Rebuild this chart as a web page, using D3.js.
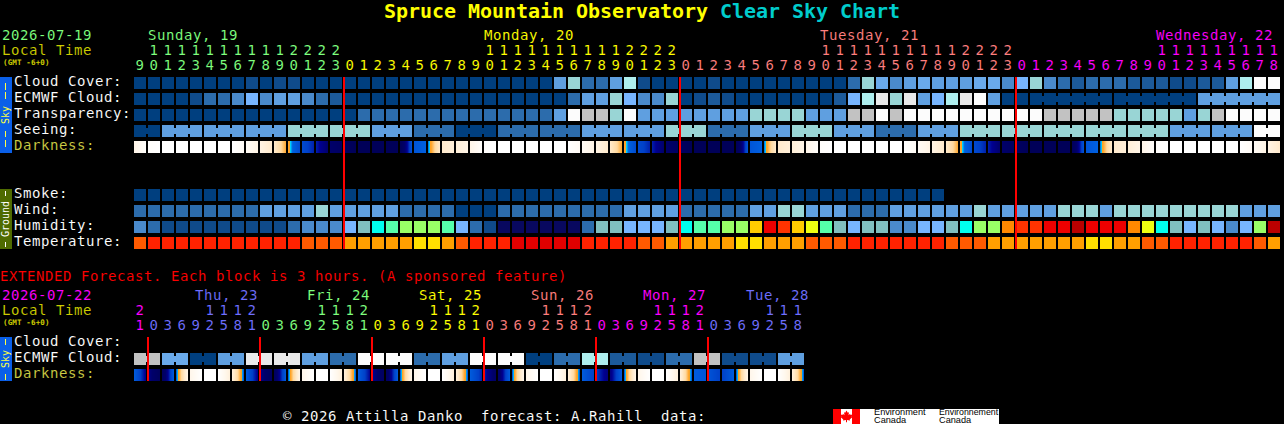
<!DOCTYPE html>
<html>
<head>
<meta charset="utf-8">
<script src="https://cdnjs.cloudflare.com/ajax/libs/d3/7.9.0/d3.min.js"></script>
<style>
html,body{margin:0;padding:0;background:#000;overflow:hidden}
svg{display:block}
text{font-family:"DejaVu Sans Mono",monospace;white-space:pre}
.thin{stroke:#000;stroke-width:.08px}
</style>
</head>
<body>
<svg id="c" width="1284" height="424" viewBox="0 0 1284 424"></svg>
<script>
// ---------- DATA ----------
const skyColors = ["#003f7f","#0f4b8b","#1c5a9a","#2c6cac","#4a8acb","#5f9fe0","#6aaaeb","#77b5fe","#99d5d5","#aeeeee","#e9e9e9","#c2c2c2","#fcfcfc"];
const humidityColors = ["#0f4a8a","#2c6cac","#4a8acb","#77b5fe","#80bfbf","#00ffee","#55ffaa","#99ff66","#eeff11","#ffcc00","#ff8800","#ff3300","#ee0000","#bb0000","#08085f"];
const temperatureColors = ["#ff2200","#e00000","#ff5a00","#ff9f00","#ffdf00"];
const darknessDomain = [0,1,2,3,3.7,3.95,4.05,4.2,4.4,6,7,8,10];
const darknessColors = ["#ffffff","#fff6ea","#ffeacc","#ffd9a0","#ffa830","#ffa020","#00d8ff","#00a0f0","#0060e0","#0040c8","#000090","#00006a","#000058"];

const mainHours = [9,10,11,12,13,14,15,16,17,18,19,20,21,22,23,
 0,1,2,3,4,5,6,7,8,9,10,11,12,13,14,15,16,17,18,19,20,21,22,23,
 0,1,2,3,4,5,6,7,8,9,10,11,12,13,14,15,16,17,18,19,20,21,22,23,
 0,1,2,3,4,5,6,7,8,9,10,11,12,13,14,15,16,17,18];
const mainDays = ["Sunday, 19","Monday, 20","Tuesday, 21","Wednesday, 22"];
const mainDayColors = ["#7fff7f","#ffff00","#ff7f7f","#ff00ff"];
const mainDayColumns = [0,15,39,63];

const cloudCover = [0,0,0,0,0,0,0,0,1,0,1,1,0,0,0,0,0,0,0,0,0,0,0,0,0,0,0,0,0,0,5,8,3,3,5,9,1,0,0,0,0,1,0,0,0,0,0,0,0,0,0,3,8,6,4,5,6,5,5,5,6,6,4,7,8,4,3,2,3,3,3,2,2,2,1,1,2,2,5,9,12,12];
const ecmwfCloud = [0,0,0,0,1,3,3,4,7,4,5,5,4,3,2,0,0,0,0,0,0,0,0,0,0,0,0,0,0,0,0,3,5,5,8,7,4,4,8,0,1,2,1,0,0,0,0,0,0,0,2,7,9,10,8,10,5,7,9,10,12,5,0,0,0,0,0,0,0,0,0,0,0,0,0,0,5,5,5,5,5,5];
const ecmwfBlockStarts = [64,70,76];
const transparency = [0,0,0,0,0,0,0,0,0,0,0,0,0,0,0,0,3,3,3,3,3,3,3,3,3,3,3,3,3,3,5,12,11,11,8,12,5,5,5,5,5,5,5,5,8,8,8,8,5,5,5,11,11,12,11,12,12,12,12,12,12,12,12,12,12,11,11,11,11,11,8,8,8,8,8,5,8,11,12,12,12,12];
const seeingBlocks = [0,5,5,5,8,8,5,3,0,3,3,5,5,8,3,5,8,5,3,5,8,8,8,8,8,5,5,12];
const darknessEdges = [1.1,.2,0,0,0,0,0,0,.5,1.2,2,3.7,5.5,6.5,8,9,10,10,10,10,5,4.4,2,1.6,
 1.1,.2,0,0,0,0,0,0,.5,1.2,2,3.7,5.5,6.5,8,9,10,10,10,10,5,4.4,2,1.6,
 1.1,.2,0,0,0,0,0,0,.5,1.2,2,3.7,5.5,6.5,8,9,10,10,10,10,5,4.4,2,1.6,
 1.1,.2,0,0,0,0,0,0,.5,1.2,2];
const smoke = [0,0,0,0,0,0,0,0,0,0,0,0,0,0,0,0,0,0,0,0,0,0,0,0,0,0,0,0,0,0,0,0,0,0,0,0,0,0,0,0,0,0,0,0,0,0,0,0,0,0,0,0,0,0,0,0,0,0];
const wind = [3,3,3,3,3,3,3,3,3,5,5,5,5,8,5,5,5,5,5,3,3,3,3,0,0,0,3,3,3,3,3,3,3,3,3,5,5,5,5,3,3,3,3,3,5,5,8,8,5,5,5,3,3,3,5,5,5,5,5,5,8,5,5,5,5,5,8,8,8,5,8,8,8,8,8,8,8,8,8,5,5,5];
const humidity = [2,1,0,0,0,0,0,0,0,0,0,1,2,2,2,3,4,5,6,7,7,7,6,3,1,0,14,14,14,14,14,14,1,4,4,3,3,3,4,5,6,6,7,7,9,12,11,9,8,6,4,3,4,4,2,2,3,3,4,5,7,7,10,11,11,12,12,13,12,12,12,10,8,5,4,3,4,3,2,3,7,13];
const temperature = [2,0,0,0,0,0,0,0,0,0,0,0,2,2,2,3,3,3,3,3,4,4,3,2,0,0,0,1,1,1,1,1,0,0,0,0,2,2,3,3,3,3,3,4,4,3,3,3,2,2,2,0,0,0,0,0,0,0,2,2,2,3,3,3,3,3,3,3,4,4,3,3,2,2,0,0,0,0,0,0,2,3];

const extHours = [21,0,3,6,9,12,15,18,21,0,3,6,9,12,15,18,21,0,3,6,9,12,15,18,21,0,3,6,9,12,15,18,21,0,3,6,9,12,15,18,21,0,3,6,9,12,15,18];
const extDays = ["Thu, 23","Fri, 24","Sat, 25","Sun, 26","Mon, 27","Tue, 28"];
const extDayColors = ["#6f6fff","#7fff7f","#ffff00","#ff7f7f","#ff00ff","#6f6fff"];
const extDayLabelX = [195,307,419,531,643,746];
const extEcmwfBlocks = [11,6,0,5,10,10,5,3,12,12,3,5,12,12,0,3,9,2,1,3,11,1,1,5];
const extDarknessEdges = [4.6,7.2,9.5,4.6,1,0,0,1.5,
 4.6,7.2,9.2,4.6,1,0,0,1.5,
 4.6,7,9,4.6,1,0,0,1.5,
 4.6,6.5,8.5,4.6,1,0,0,1.5,
 4.6,6,7.5,4.6,1,0,0,1.5,
 4.6,5,6,4.6,1,0,0,1.5,4.6];
const extMidnights = [1,9,17,25,33,41];
const mainMidnights = [15,39,63];

// ---------- SCALES ----------
const CELL = 12, PITCH = 14, LEFT = 134;
const x = d3.scaleLinear().domain([0,1]).range([LEFT,LEFT+PITCH]);
const skyScale = d3.scaleOrdinal(d3.range(skyColors.length), skyColors);
const humScale = d3.scaleOrdinal(d3.range(humidityColors.length), humidityColors);
const tempScale = d3.scaleOrdinal(d3.range(temperatureColors.length), temperatureColors);
const darkScale = d3.scaleLinear().domain(darknessDomain).range(darknessColors).interpolate(d3.interpolateRgb);

const svg = d3.select("#c");
svg.append("rect").attr("width",1284).attr("height",424).attr("fill","#000");

const FS = 14, LS = 0.57;
function label(str,px,py,color,opt={}){
  return svg.append("text").attr("x",px).attr("y",py).attr("fill",color)
    .attr("class",opt.weight?null:"thin")
    .attr("font-size",opt.size||FS).attr("letter-spacing",opt.ls===undefined?LS:opt.ls)
    .attr("font-weight",opt.weight||"normal").attr("text-anchor",opt.anchor||"start").text(str);
}
function cells(values,y,scale){
  svg.append("g").selectAll("rect").data(values).join("rect")
    .attr("x",(d,i)=>x(i)).attr("y",y).attr("width",CELL).attr("height",CELL)
    .attr("fill",d=>scale(d)).attr("shape-rendering","crispEdges");
}
// block rows: cells of one forecast block are joined by a short bridge
function blockBridges(values,groups,y,scale){
  const links = [];
  values.forEach((v,i)=>{
    if(i<values.length-1 && groups(i)===groups(i+1) && groups(i)!==null) links.push({i,v});
  });
  svg.append("g").selectAll("rect").data(links).join("rect")
    .attr("x",d=>x(d.i)+CELL).attr("y",y+3).attr("width",PITCH-CELL).attr("height",6)
    .attr("fill",d=>scale(d.v)).attr("shape-rendering","crispEdges");
}
function gradientCells(edges,y){
  const strips = [];
  d3.range(edges.length-1).forEach(i=>{
    const f = d3.interpolateNumber(edges[i],edges[i+1]);
    d3.range(CELL).forEach(p=>strips.push({i,p,v:f((p+.5)/CELL)}));
  });
  svg.append("g").selectAll("rect").data(strips).join("rect")
    .attr("x",d=>x(d.i)+d.p).attr("y",y).attr("width",1).attr("height",CELL)
    .attr("fill",d=>darkScale(d.v)).attr("shape-rendering","crispEdges");
}
function sideBar(y0,y1,color,textColor,str,dashes){
  svg.append("rect").attr("x",0).attr("y",y0).attr("width",12).attr("height",y1-y0).attr("fill",color).attr("shape-rendering","crispEdges");
  svg.append("text").attr("transform",`translate(9,${(y0+y1)/2}) rotate(-90)`).attr("text-anchor","middle")
    .attr("font-size",10).attr("fill",textColor).text(str);
  svg.append("g").selectAll("rect").data(dashes).join("rect")
    .attr("x",5).attr("y",d=>d[0]).attr("width",1).attr("height",d=>d[1]-d[0])
    .attr("fill",textColor).attr("shape-rendering","crispEdges");
}
function hourLabels(hours,colorOf,yTens,yUnits){
  const t = svg.append("g").attr("font-size",FS).attr("text-anchor","middle").attr("class","thin");
  t.selectAll("text.t").data(hours.map((h,i)=>({h,i})).filter(d=>d.h>=10)).join("text").attr("class","t")
    .attr("x",d=>x(d.i)+CELL/2-.4).attr("y",yTens).attr("fill",d=>colorOf(d.i)).text(d=>Math.floor(d.h/10));
  t.selectAll("text.u").data(hours.map((h,i)=>({h,i}))).join("text").attr("class","u")
    .attr("x",d=>x(d.i)+CELL/2-.4).attr("y",yUnits).attr("fill",d=>colorOf(d.i)).text(d=>d.h%10);
}
function redLines(cols,y0,y1){
  svg.append("g").selectAll("rect").data(cols).join("rect")
    .attr("x",d=>x(d)-1).attr("y",y0).attr("width",2).attr("height",y1-y0)
    .attr("fill","#ff0000").attr("shape-rendering","crispEdges");
}

// ---------- TITLE ----------
label("Spruce Mountain Observatory",384,18,"#ffff00",{size:20,ls:-.04,weight:"bold"});
label("Clear Sky Chart",720,18,"#00cccc",{size:20,ls:-.04,weight:"bold"});

// ---------- MAIN HEADER ----------
const WHITE="#ffffff", DARKLBL="#cccc44", LOCAL="#cccc00";
label("2026-07-19",2,40,"#7fff7f");
label("Local Time",2,55,LOCAL);
label("(GMT -6+0)",3,65,LOCAL,{size:7.6,ls:.1,weight:"bold"});
mainDays.forEach((d,k)=>label(d,x(mainDayColumns[k]+(k===0?1:10)),40,mainDayColors[k]));
const mainColor = i=>mainDayColors[d3.bisectRight(mainDayColumns,i)-1];
hourLabels(mainHours,mainColor,55,70);

// ---------- MAIN ROWS ----------
const skyRows = [["Cloud Cover:",77],["ECMWF Cloud:",93],["Transparency:",109],["Seeing:",125]];
skyRows.forEach(r=>label(r[0],14,r[1]+9,WHITE));
label("Darkness:",14,150,DARKLBL);
sideBar(77,153,"#0a5fe8","#ffff44","Sky",[[83,90],[92,99],[131,137],[140,147]]);

cells(cloudCover,77,skyScale);
cells(ecmwfCloud,93,skyScale);
blockBridges(ecmwfCloud,i=>i<ecmwfBlockStarts[0]?null:d3.bisectRight(ecmwfBlockStarts,i),93,skyScale);
cells(transparency,109,skyScale);
const seeingGroup = i=>Math.floor((i+1)/3);
const seeing = d3.range(82).map(i=>seeingBlocks[seeingGroup(i)]);
cells(seeing,125,skyScale);
blockBridges(seeing,seeingGroup,125,skyScale);
gradientCells(darknessEdges,141);

[["Smoke:",189],["Wind:",205],["Humidity:",221],["Temperature:",237]].forEach(r=>label(r[0],14,r[1]+9,WHITE));
sideBar(189,249,"#4f6b00","#ffffff","Ground",[[191,196],[242,247]]);
cells(smoke,189,skyScale);
cells(wind,205,skyScale);
cells(humidity,221,humScale);
cells(temperature,237,tempScale);
redLines(mainMidnights,77,249);

// ---------- EXTENDED ----------
label("EXTENDED Forecast. Each block is 3 hours. (A sponsored feature)",0,281,"#ff0000");
label("2026-07-22",2,300,"#ff00ff");
label("Local Time",2,315,LOCAL);
label("(GMT -6+0)",3,325,LOCAL,{size:7.6,ls:.1,weight:"bold"});
extDays.forEach((d,k)=>label(d,extDayLabelX[k],300,extDayColors[k]));
const extColor = j=>j<1?"#ff00ff":extDayColors[Math.floor((j-1)/8)];
hourLabels(extHours,extColor,315,330);

label("Cloud Cover:",14,346,WHITE);
label("ECMWF Cloud:",14,362,WHITE);
label("Darkness:",14,378,DARKLBL);
sideBar(337,381,"#0a5fe8","#ffff44","Sky",[[339,345],[374,380]]);
const extGroup = j=>Math.floor(j/2);
const extEcmwf = d3.range(48).map(j=>extEcmwfBlocks[extGroup(j)]);
cells(extEcmwf,353,skyScale);
blockBridges(extEcmwf,extGroup,353,skyScale);
gradientCells(extDarknessEdges,369);
redLines(extMidnights,337,381);

// ---------- FOOTER ----------
label("\u00a9 2026 Attilla Danko  forecast: A.Rahill  data:",283,421,WHITE);
const logo = svg.append("g");
logo.append("rect").attr("x",833).attr("y",409).attr("width",166).attr("height",15).attr("fill","#fff");
logo.append("rect").attr("x",833).attr("y",409).attr("width",8).attr("height",15).attr("fill","#ff0000");
logo.append("rect").attr("x",852).attr("y",409).attr("width",8).attr("height",15).attr("fill","#ff0000");
logo.append("path").attr("d","M846.5 410.5l1.3 2.3 1.2-.6-.5 3 1.6-1.5.4 1.2 1.8-.3-.6 2 .8.5-2.8 2.3.3 1.1-3-.4v2.2h-1v-2.2l-3 .4.3-1.1-2.8-2.3.8-.5-.6-2 1.8.3.4-1.2 1.6 1.5-.5-3 1.2.6z").attr("fill","#ff0000");
[["Environment",874,415,9.2],["Canada",874,423,9.2],["Environnement",939,415,8.8],["Canada",939,423,9.2]].forEach(t=>{
  svg.append("text").attr("x",t[1]).attr("y",t[2]).attr("fill","#000").attr("font-size",t[3])
    .style("font-family","'Liberation Sans',sans-serif").text(t[0]);
});
</script>
</body>
</html>
